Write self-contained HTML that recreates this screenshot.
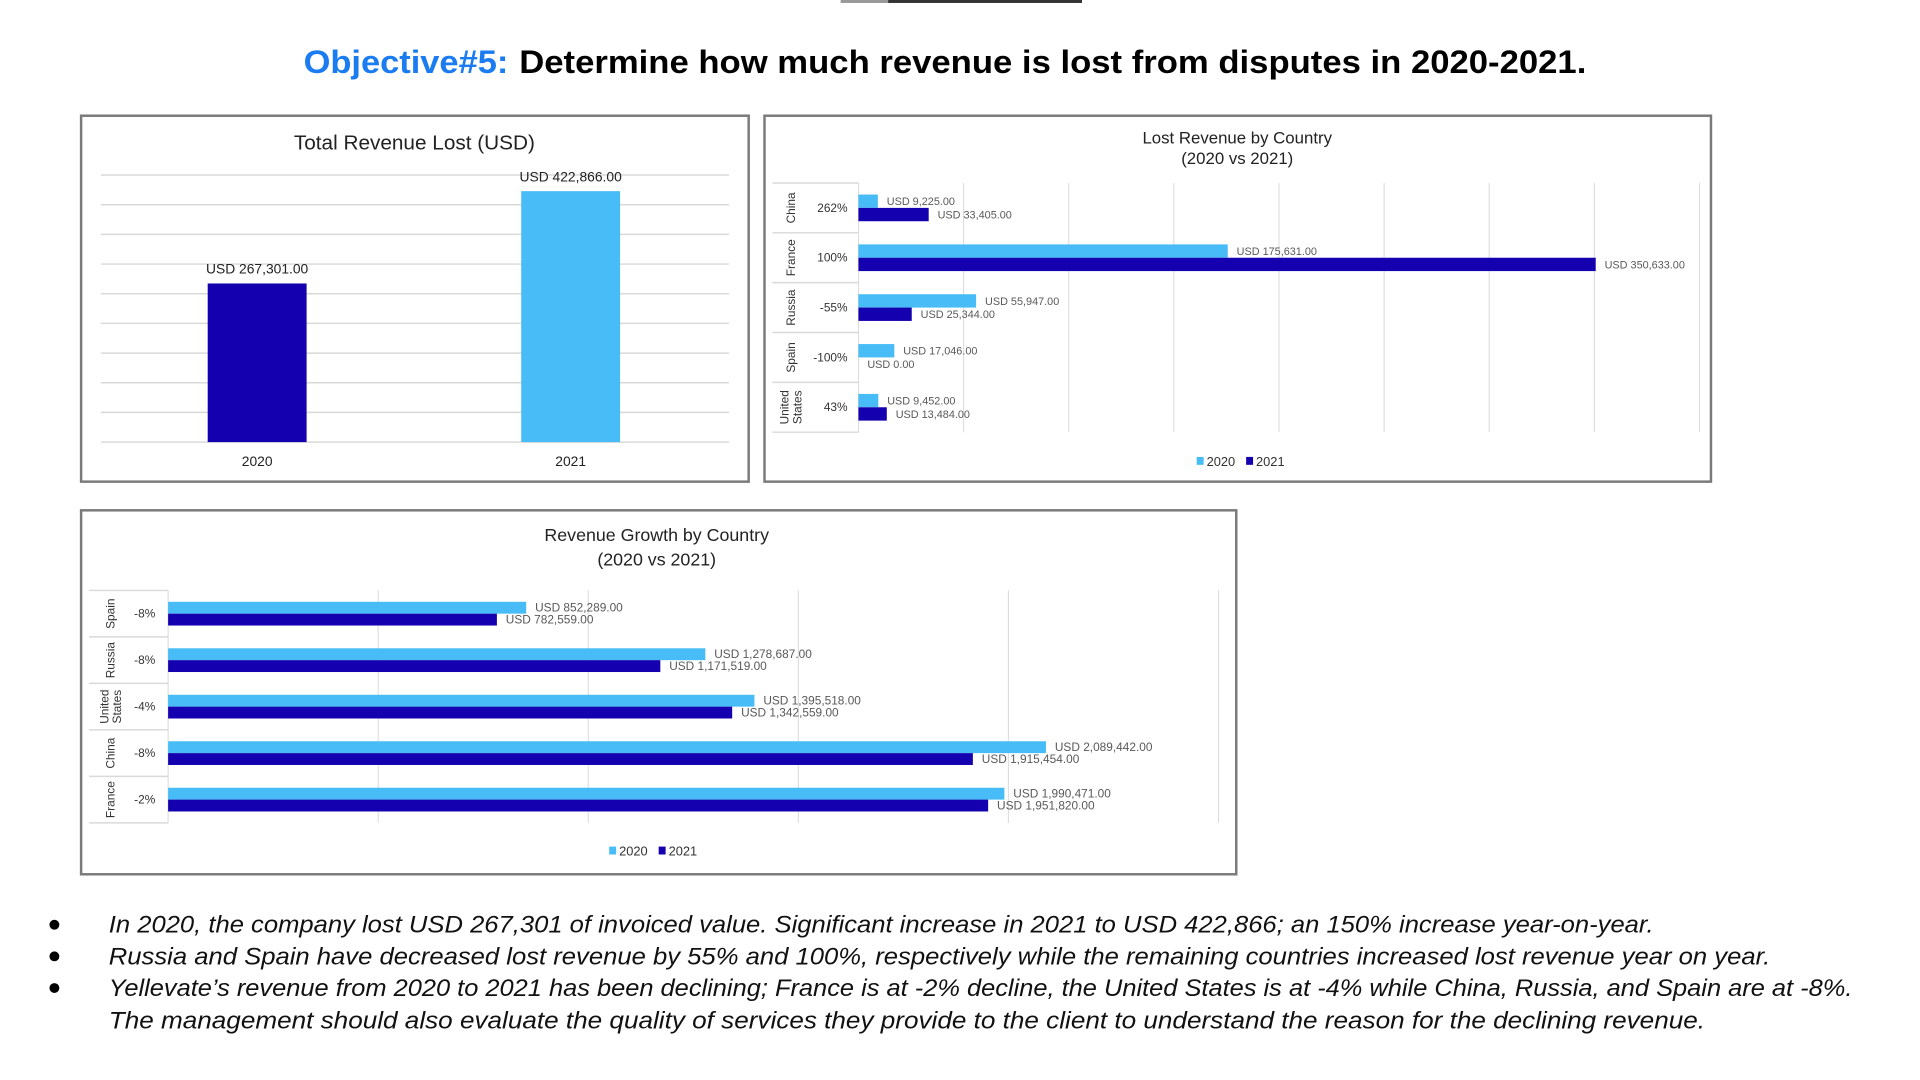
<!DOCTYPE html>
<html><head><meta charset="utf-8"><style>
html,body{margin:0;padding:0;background:#fff;}
svg{display:block;font-family:"Liberation Sans",Arial,sans-serif;}
</style></head><body>
<svg id="root" width="1920" height="1080" viewBox="0 0 1920 1080">
<g transform="scale(0.989)">
<rect x="850" y="0" width="48" height="3" fill="#999"/>
<rect x="898" y="0" width="196" height="3" fill="#333"/>
<g>
<text x="307" y="74" font-size="33" font-weight="bold" fill="#1a7cf0" textLength="207" lengthAdjust="spacingAndGlyphs">Objective#5:</text>
<text x="525" y="74" font-size="33" font-weight="bold" fill="#000" textLength="1079" lengthAdjust="spacingAndGlyphs">Determine how much revenue is lost from disputes in 2020-2021.</text>
</g>
<g id="p1">
<rect x="82" y="117" width="675" height="370" fill="#fff" stroke="#7a7a7a" stroke-width="2.5"/>
<text x="419" y="151" font-size="21" text-anchor="middle" fill="#222">Total Revenue Lost (USD)</text>
</g>
<g id="p2">
<rect x="773" y="117" width="957" height="370" fill="#fff" stroke="#7a7a7a" stroke-width="2.5"/>
<text x="1251" y="145" font-size="17" text-anchor="middle" fill="#222">Lost Revenue by Country</text>
<text x="1251" y="166" font-size="17" text-anchor="middle" fill="#222">(2020 vs 2021)</text>
</g>
<g id="p3">
<rect x="82" y="516" width="1168" height="368" fill="#fff" stroke="#7a7a7a" stroke-width="2.5"/>
<text x="664" y="547" font-size="18" text-anchor="middle" fill="#222">Revenue Growth by Country</text>
<text x="664" y="572" font-size="18" text-anchor="middle" fill="#222">(2020 vs 2021)</text>
</g>
<g font-style="italic" font-size="24" fill="#111">
<circle cx="55" cy="935" r="5" fill="#000"/><circle cx="55" cy="967" r="5" fill="#000"/><circle cx="55" cy="999" r="5" fill="#000"/>
<text x="110" y="943" textLength="1562" lengthAdjust="spacingAndGlyphs">In 2020, the company lost USD 267,301 of invoiced value. Significant increase in 2021 to USD 422,866; an 150% increase year-on-year.</text>
<text x="110" y="975" textLength="1680" lengthAdjust="spacingAndGlyphs">Russia and Spain have decreased lost revenue by 55% and 100%, respectively while the remaining countries increased lost revenue year on year.</text>
<text x="110" y="1007" textLength="1763" lengthAdjust="spacingAndGlyphs">Yellevate’s revenue from 2020 to 2021 has been declining; France is at -2% decline, the United States is at -4% while China, Russia, and Spain are at -8%.</text>
<text x="110" y="1040" textLength="1614" lengthAdjust="spacingAndGlyphs">The management should also evaluate the quality of services they provide to the client to understand the reason for the declining revenue.</text>
</g>
</g>
</svg>
<script>
const totalYears = ["2020","2021"];
const totalValues = [267301, 422866];
const totalLabels = ["USD 267,301.00","USD 422,866.00"];

const lostCountries = ["China","France","Russia","Spain","United States"];
const lost2020 = [9225, 175631, 55947, 17046, 9452];
const lost2021 = [33405, 350633, 25344, 0, 13484];
const lost2020Labels = ["USD 9,225.00","USD 175,631.00","USD 55,947.00","USD 17,046.00","USD 9,452.00"];
const lost2021Labels = ["USD 33,405.00","USD 350,633.00","USD 25,344.00","USD 0.00","USD 13,484.00"];
const lostPct = ["262%","100%","-55%","-100%","43%"];

const growthCountries = ["Spain","Russia","United States","China","France"];
const growth2020 = [852289, 1278687, 1395518, 2089442, 1990471];
const growth2021 = [782559, 1171519, 1342559, 1915454, 1951820];
const growth2020Labels = ["USD 852,289.00","USD 1,278,687.00","USD 1,395,518.00","USD 2,089,442.00","USD 1,990,471.00"];
const growth2021Labels = ["USD 782,559.00","USD 1,171,519.00","USD 1,342,559.00","USD 1,915,454.00","USD 1,951,820.00"];
const growthPct = ["-8%","-8%","-4%","-8%","-2%"];

const C20 = "#48bcf6", C21 = "#1500af";
const NS = "http://www.w3.org/2000/svg";
function mk(parent, tag, attrs, text){
  const e = document.createElementNS(NS, tag);
  for (const k in attrs) e.setAttribute(k, attrs[k]);
  if (text !== undefined) e.textContent = text;
  parent.appendChild(e);
  return e;
}

(function(){
  const g = document.getElementById('p1');
  const y0 = 447, yMax = 450000, h = 270;
  const y = v => y0 - v / yMax * h;
  for (let v = 0; v <= yMax; v += 50000) {
    const l = mk(g, 'line', {x1:102, x2:737, y1:y(v), y2:y(v), stroke:'#d9d9d9', 'stroke-width':1.5});
    
    
  }
  const centers = [260, 577], bw = 100;
  totalValues.forEach((v, i) => {
    const r = mk(g, 'rect', {x:centers[i]-bw/2, y:y(v), width:bw, height:y0-y(v), fill: i===0?C21:C20});
    
    
    const t = mk(g, 'text', {x:centers[i], y:y(v)-10, 'font-size':14, 'text-anchor':'middle', fill:'#222'}, totalLabels[i]);
    
    
    const xl = mk(g, 'text', {x:centers[i], y:471, 'font-size':14, 'text-anchor':'middle', fill:'#222'}, totalYears[i]);
    
    
  });
})();

function hbar(g, cfg){
  const {x0, perUnit, max, step, top, band, n, barH, cats, v20, v21, l20, l21, pct, labX0, pctX, catX, fs, lfs, legendX, legendY} = cfg;
  const x = v => x0 + v * perUnit;
  for (let v = step; v <= max; v += step) {
    const l = mk(g, 'line', {x1:x(v), x2:x(v), y1:top, y2:top+band*n, stroke:'#d9d9d9', 'stroke-width':1});
    
    
  }
  const ax = mk(g, 'line', {x1:x0, x2:x0, y1:top, y2:top+band*n, stroke:'#d9d9d9', 'stroke-width':1});
  
  
  for (let i = 0; i <= n; i++) {
    const s = mk(g, 'line', {x1:labX0, x2:x0, y1:top+band*i, y2:top+band*i, stroke:'#d9d9d9', 'stroke-width':1.5});
    
    
  }
  cats.forEach((c, i) => {
    const cy = top + band*i + band/2;
    const r1 = mk(g, 'rect', {x:x0, y:cy-barH, width:x(v20[i])-x0, height:barH, fill:C20});
    
    
    const r2 = mk(g, 'rect', {x:x0, y:cy, width:x(v21[i])-x0, height:barH, fill:C21});
    
    
    const t1 = mk(g, 'text', {x:x(v20[i])+9, y:cy-barH/2+4, 'font-size':lfs, fill:'#595959'}, l20[i]);
    
    
    const t2 = mk(g, 'text', {x:x(v21[i])+9, y:cy+barH/2+4, 'font-size':lfs, fill:'#595959'}, l21[i]);
    
    
    const p = mk(g, 'text', {x:pctX, y:cy+4, 'font-size':fs, 'text-anchor':'end', fill:'#333'}, pct[i]);
    
    
    const parts = c.split(' ');
    parts.forEach((w, k) => {
      const off = (k - (parts.length-1)/2) * (fs+1);
      const tx = catX + off + 4;
      const ct = mk(g, 'text', {x:tx, y:cy, 'font-size':fs, 'text-anchor':'middle', fill:'#333', transform:`rotate(-90 ${tx} ${cy})`}, w);
      
      
    });
  });
  const lg = mk(g, 'g', {});
  
  
  const a = mk(lg, 'rect', {x:legendX, y:legendY-4, width:7, height:8, fill:C20});
  
  
  const at = mk(lg, 'text', {x:legendX+10, y:legendY+5, 'font-size':fs+1, fill:'#333'}, '2020');
  
  
  const b = mk(lg, 'rect', {x:legendX+50, y:legendY-4, width:7, height:8, fill:C21});
  
  
  const bt = mk(lg, 'text', {x:legendX+60, y:legendY+5, 'font-size':fs+1, fill:'#333'}, '2021');
  
  
}

hbar(document.getElementById('p2'), {
  x0:868, perUnit:106.3/50000, max:400000, step:50000, top:185, band:50.4, n:5, barH:13.5,
  cats:lostCountries, v20:lost2020, v21:lost2021, l20:lost2020Labels, l21:lost2021Labels, pct:lostPct,
  labX0:781, pctX:857, catX:800, fs:12, lfs:11, legendX:1210, legendY:466
});
hbar(document.getElementById('p3'), {
  x0:170, perUnit:212.4/500000, max:2500000, step:500000, top:597, band:47, n:5, barH:12,
  cats:growthCountries, v20:growth2020, v21:growth2021, l20:growth2020Labels, l21:growth2021Labels, pct:growthPct,
  labX0:90, pctX:157, catX:112, fs:12, lfs:12, legendX:616, legendY:860
});
</script>
</body></html>
